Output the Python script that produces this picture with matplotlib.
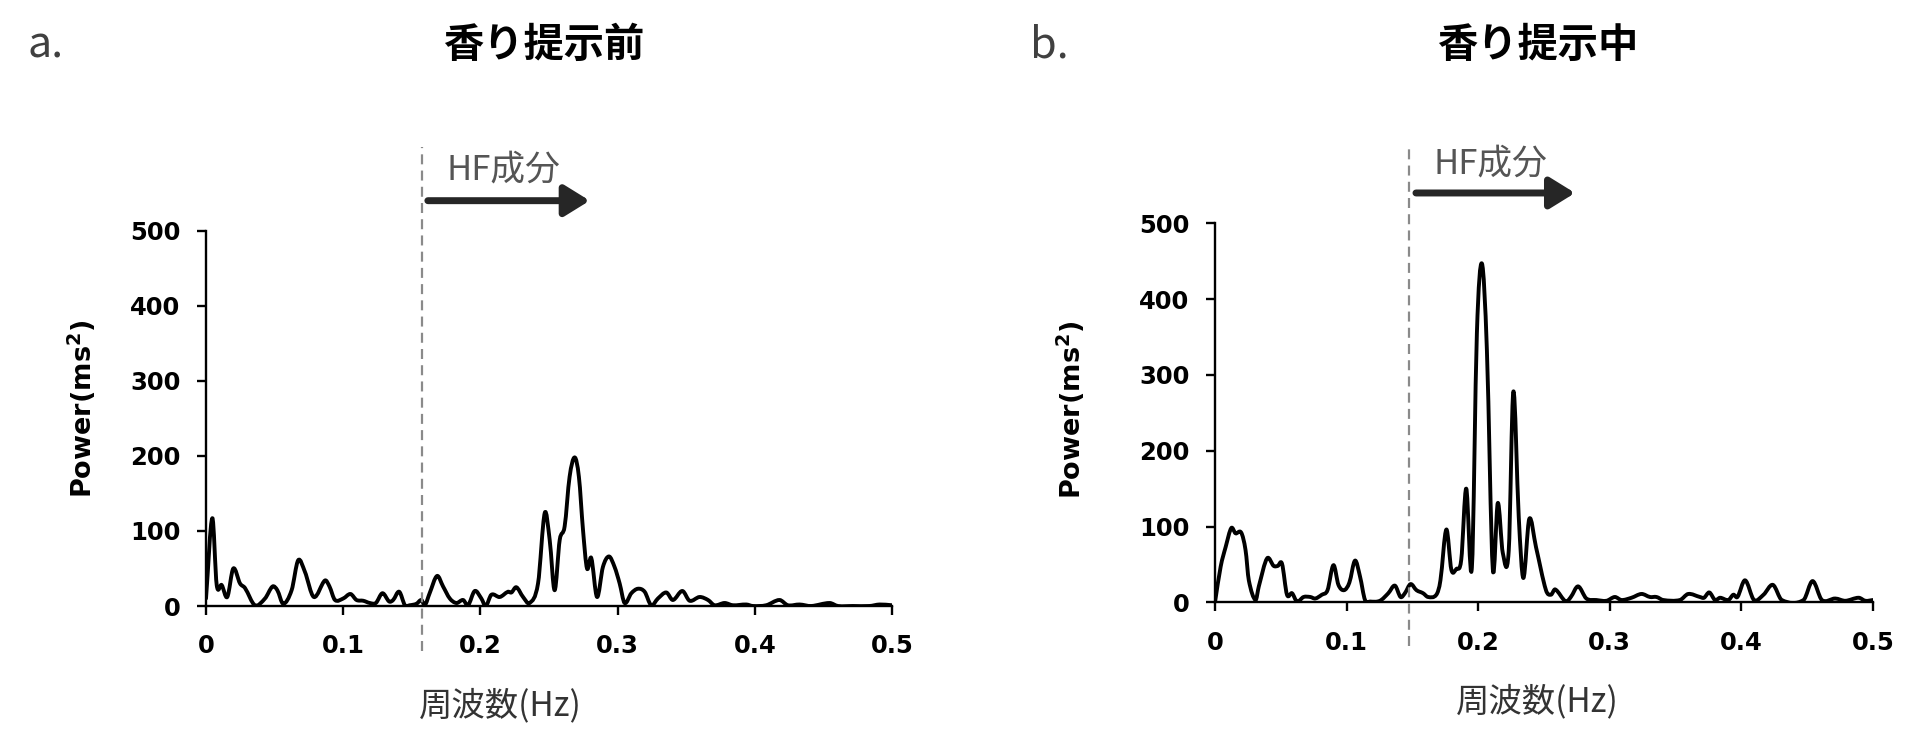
import matplotlib
matplotlib.use("Agg")
import matplotlib.pyplot as plt
import numpy as np
from matplotlib.path import Path
from matplotlib.patches import PathPatch

# ---------------- data ----------------
freq_before = [0, .0046, .0078, .0114, .0155, .0199, .0248, .0284, .0357, .043, .0485, .052, .0563,
               .0624, .0672, .072, .0786, .0867, .090, .094, .100, .1053, .1097, .1146, .1194, .1238,
               .1286, .1335, .1364, .1408, .145, .1485, .1534, .157, .1595, .163, .1684, .1728, .1777,
               .1825, .1874, .191, .1959, .2007, .2039, .208, .2141, .2201, .2226, .2262, .2311, .2359,
               .242, .2469, .2505, .2541, .2578, .2614, .2650, .2687, .2718, .2748, .2777, .2808, .2850,
               .2893, .2937, .2978, .3015, .3051, .3100, .3148, .3197, .3245, .3294, .3355, .3403, .3472,
               .3525, .3598, .3659, .3707, .378, .384, .3938, .3986, .4083, .418, .4241, .4326, .4411,
               .4545, .4606, .4715, .4836, .4909, .5]
power_before = [10, 117, 28, 28, 12, 50, 30, 24, 1, 10, 26, 21, 3,
                21, 61, 46, 12, 34, 26, 8, 10, 16, 8, 7, 4, 4,
                17, 6, 8, 19, 1, 1, 3, 8, 1, 17, 40, 26, 10,
                4, 8, 1, 20, 10, 0, 15, 12, 19, 18, 25, 12, 4,
                30, 124, 88, 21, 88, 106, 172, 198, 172, 101, 50, 64, 12,
                52, 66, 52, 30, 4, 17, 23, 19, 1, 10, 18, 8, 20,
                7, 12, 8, 1, 4, 1, 2, 0, 1, 8, 1, 2, 0,
                4, 0, 0, 0, 2, 1]

freq_during = [0, .0043, .0081, .0124, .0156, .0199, .0232, .0257, .0308, .0333, .0396, .0446, .0477,
               .0509, .0547, .0585, .0623, .0673, .0724, .0762, .0812, .0855, .09, .0938, .0981, .1021,
               .1064, .1102, .114, .1178, .1253, .1317, .1367, .141, .1443, .1486, .1531, .1581, .1619,
               .1682, .1713, .1758, .1796, .1834, .1871, .1909, .1952, .199, .2028, .2066, .2111, .2149,
               .2187, .2232, .2267, .2308, .2343, .2388, .2439, .2515, .2553, .2585, .2666, .2704, .2759,
               .2822, .2898, .2975, .3038, .3089, .3165, .3241, .3305, .3355, .3406, .3533, .3596, .3685,
               .3716, .3756, .38, .3838, .3901, .3939, .397, .4028, .4096, .4168, .4239, .4307, .4472,
               .4541, .4612, .4713, .479, .4891, .4942, .5]
power_during = [0, 47, 73, 98, 91, 92, 69, 29, 3, 21, 58, 48, 48,
                51, 10, 12, 1, 7, 7, 5, 10, 16, 49, 23, 16, 26,
                55, 34, 3, 1, 2, 12, 22, 7, 12, 24, 16, 12, 7,
                10, 29, 96, 43, 44, 56, 150, 46, 355, 447, 333, 44, 131,
                65, 68, 278, 113, 32, 110, 73, 16, 10, 17, 1, 7, 21,
                5, 3, 2, 7, 3, 6, 11, 7, 7, 3, 3, 11, 7,
                6, 13, 3, 6, 3, 10, 7, 29, 3, 10, 23, 3, 3,
                28, 3, 5, 2, 6, 2, 3]

x_ticks = [0, 0.1, 0.2, 0.3, 0.4, 0.5]
x_ticklabels = ["0", "0.1", "0.2", "0.3", "0.4", "0.5"]
y_ticks = [0, 100, 200, 300, 400, 500]
y_ticklabels = ["0", "100", "200", "300", "400", "500"]

hf_boundary_before = 0.1575
hf_boundary_during = 0.1476

panel_letters = ["a.", "b."]
panel_titles = ["香り提示前", "香り提示中"]
hf_label = "HF成分"
x_label = "周波数(Hz)"
y_label = r"Power(ms$^{\mathbf{2}}$)"

CJK = ["Noto Sans CJK JP", "DejaVu Sans"]
NUM = ["DejaVu Sans"]


def smooth_path(x, y):
    """Smoothed (Excel-like) line through the data points using cubic Bezier segments."""
    x = np.asarray(x, float)
    y = np.asarray(y, float)
    n = len(x)
    m = np.zeros(n)
    for i in range(n):
        if i == 0:
            m[i] = (y[1] - y[0]) / (x[1] - x[0])
        elif i == n - 1:
            m[i] = (y[-1] - y[-2]) / (x[-1] - x[-2])
        else:
            m[i] = (y[i + 1] - y[i - 1]) / (x[i + 1] - x[i - 1])
    verts = [(x[0], y[0])]
    codes = [Path.MOVETO]
    for i in range(n - 1):
        h = x[i + 1] - x[i]
        verts += [(x[i] + h / 3, y[i] + m[i] * h / 3),
                  (x[i + 1] - h / 3, y[i + 1] - m[i + 1] * h / 3),
                  (x[i + 1], y[i + 1])]
        codes += [Path.CURVE4] * 3
    return Path(verts, codes)


plt.rcParams["mathtext.fontset"] = "dejavusans"

fig = plt.figure(figsize=(19.2, 7.48), dpi=100)
W, H = 1920, 748

axes_specs = [
    # left px, right px, top px, bottom px
    (206, 892, 230.7, 606),
    (1215, 1873, 223.3, 602.3),
]
series = [(freq_before, power_before, hf_boundary_before),
          (freq_during, power_during, hf_boundary_during)]

# text placements (axes fraction coordinates)
ylabel_pos = [(-0.181, 0.525), (-0.219, 0.507)]
xlabel_pos = [(0.4286, -0.266), (0.4894, -0.262)]
hf_text_x = [0.1755, 0.1664]
hf_text_y = [581, 578]
arrow_x = [(0.1617, 0.2797), (0.1527, 0.2736)]
arrow_y = 540
dash_y = [(-60, 612), (-58, 600)]

letter_pos = [(27, 57), (1030, 57)]
title_pos = [(544, 45), (1538, 45)]

for k, ((l, r, t, b), (fx, py, hf)) in enumerate(zip(axes_specs, series)):
    ax = fig.add_axes([l / W, 1 - b / H, (r - l) / W, (b - t) / H])
    ax.set_xlim(0, 0.5)
    ax.set_ylim(0, 500)
    for s in ["top", "right"]:
        ax.spines[s].set_visible(False)
    for s in ["left", "bottom"]:
        ax.spines[s].set_linewidth(1.7)
        ax.spines[s].set_color("black")
    ax.set_xticks(x_ticks)
    ax.set_xticklabels(x_ticklabels)
    ax.set_yticks(y_ticks)
    ax.set_yticklabels(y_ticklabels)
    ax.tick_params(axis="both", direction="out", length=6.5, width=1.7, colors="black",
                   labelsize=17.5)
    ax.tick_params(axis="x", pad=14)
    ax.tick_params(axis="y", pad=12)
    for lab in ax.get_xticklabels() + ax.get_yticklabels():
        lab.set_fontfamily(NUM)
        lab.set_fontweight("bold")

    patch = PathPatch(smooth_path(fx, py), fill=False, lw=2.8, ec="black",
                      joinstyle="round", capstyle="round")
    ax.add_patch(patch)

    # HF boundary
    ax.plot([hf, hf], list(dash_y[k]), color="#8a8a8a", lw=1.6, dashes=(4.5, 2.8),
            clip_on=False, zorder=3)

    # HF arrow + label
    ax.annotate("", xy=(arrow_x[k][1], arrow_y), xytext=(arrow_x[k][0], arrow_y),
                xycoords="data", textcoords="data", annotation_clip=False,
                arrowprops=dict(arrowstyle="-|>,head_length=0.42,head_width=0.26",
                                lw=5, color="#262626", mutation_scale=36,
                                shrinkA=0, shrinkB=0))
    ax.text(hf_text_x[k], hf_text_y[k], hf_label, fontsize=25, color="#555555",
            family=CJK, ha="left", va="center", clip_on=False)

    ax.text(*ylabel_pos[k], y_label, transform=ax.transAxes, rotation=90,
            ha="center", va="center", fontsize=19.5, fontweight="bold", family=NUM)
    ax.text(*xlabel_pos[k], x_label, transform=ax.transAxes, ha="center", va="center",
            fontsize=24, color="#333333", family=CJK)

for (px, py_), letter in zip(letter_pos, panel_letters):
    fig.text(px / W, 1 - py_ / H, letter, fontsize=31, color="#404040", family=CJK,
             ha="left", va="baseline")
for (px, py_), title in zip(title_pos, panel_titles):
    fig.text(px / W, 1 - py_ / H, title, fontsize=29, color="black", family=CJK,
             fontweight="bold", ha="center", va="center")

fig.savefig("out.png", dpi=100, facecolor="white")
